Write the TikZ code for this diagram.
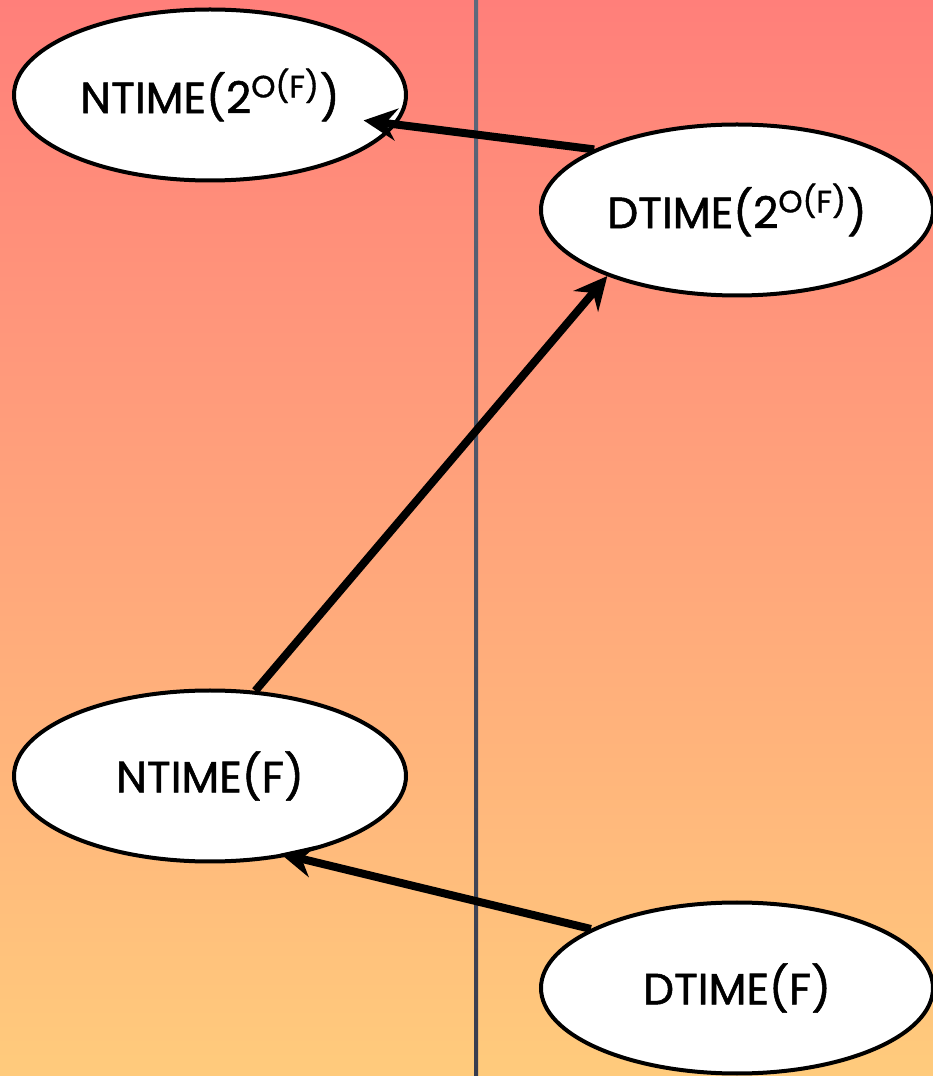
\documentclass[tikz,border=0pt]{standalone}
\usepackage{fontspec}
\setmainfont{Poppins}
\newfontfamily\classfont{Poppins}[FakeBold=1.2]
\usetikzlibrary{shapes.geometric,arrows.meta}
\definecolor{bgtop}{HTML}{FF7F7A}
\definecolor{bgbot}{HTML}{FFCB7C}
\definecolor{linetop}{HTML}{5E6A7D}
\definecolor{linebot}{HTML}{383C4E}
\tikzset{
  timeset/.style={draw=black, fill=white, ellipse, line width=0.08cm, minimum width=7.84cm, minimum height=3.42cm, inner sep=0pt, font=\classfont\fontsize{25}{30}\selectfont},
  inclusion/.style={line width=0.16cm, -{Stealth[length=0.66cm, width=0.64cm, inset=0.22cm]}},
}

\begin{document}
\begin{tikzpicture}
        %background
        \useasboundingbox (0,0) rectangle (18.66,21.52);
        \shade[top color=bgtop, bottom color=bgbot] (0,0) rectangle (18.66,21.52);
        \shade[top color=linetop, bottom color=linebot] (9.48,0) rectangle (9.56,21.52);

        %classes
        \node[timeset, name=ntimeexp] at (4.2 ,19.62) {NTIME(2\textsuperscript{O(F)})};
        \node[timeset, name=dtimeexp] at (14.74,17.32) {DTIME(2\textsuperscript{O(F)})};
        \node[timeset, name=ntime   ] at (4.2 , 6.0 ) {NTIME(F)};
        \node[timeset, name=dtime   ] at (14.74, 1.76) {DTIME(F)};

        %inclusions
        \draw[inclusion, shorten >=-0.66cm] (dtimeexp.157) -- (ntimeexp.-9);
        \draw[inclusion]                    (ntime.62)     -- (dtimeexp.207);
        \draw[inclusion, shorten >=-0.2cm ] (dtime.158)    -- (ntime.-45);
\end{tikzpicture}
\end{document}
